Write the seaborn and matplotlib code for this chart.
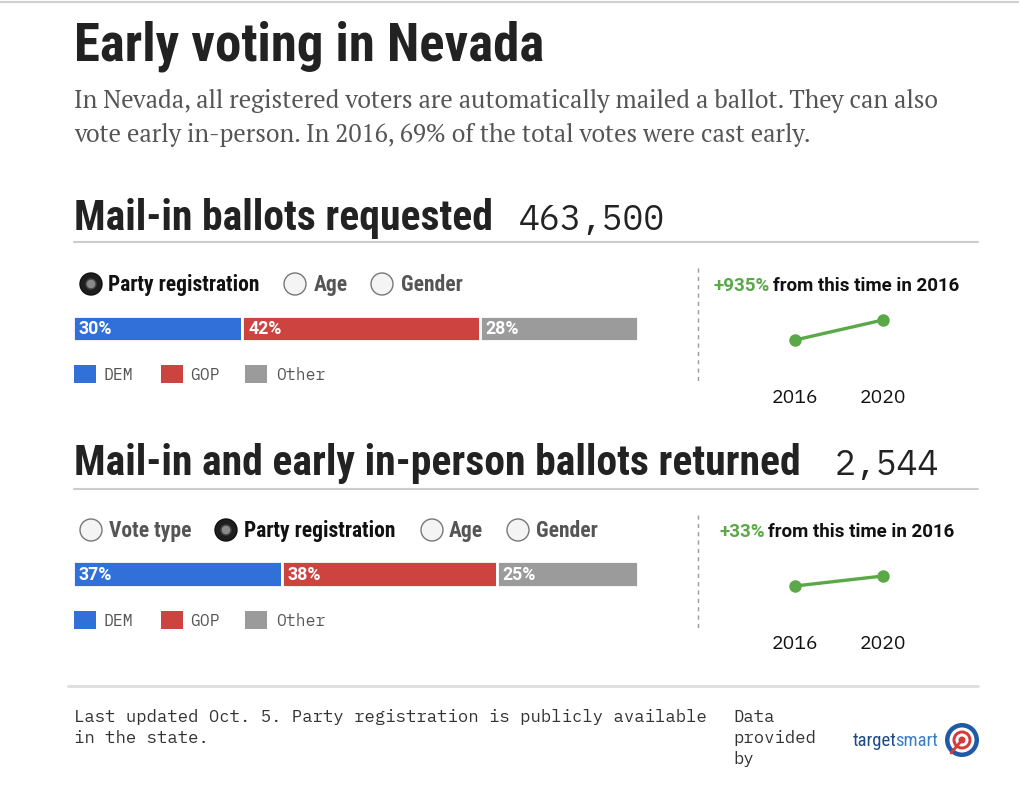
import matplotlib
matplotlib.use("Agg")
import matplotlib.pyplot as plt
from matplotlib.patches import Circle, Rectangle
import numpy as np
import pandas as pd
import seaborn as sns

# ---- data ----
parties = ["DEM", "GOP", "Other"]
party_colors = ["#3070d8", "#cc4340", "#9b9b9b"]

requested_total = "463,500"
requested_share = [30, 42, 28]
requested_change = "+935%"

returned_total = "2,544"
returned_share = [37, 38, 25]
returned_change = "+33%"

spark_years = [2016, 2020]
requested_counts = [44_783, 463_500]   # 2020 is +935% on 2016
returned_counts = [1_913, 2_544]       # 2020 is +33% on 2016

requested_tabs = ["Party registration", "Age", "Gender"]
returned_tabs = ["Vote type", "Party registration", "Age", "Gender"]

W, H = 1020, 800
GREEN = "#5aa848"
HEAD = ["Roboto Condensed", "DejaVu Sans"]
MONO = ["IBM Plex Mono", "DejaVu Sans Mono"]
SERIF = ["PT Serif", "DejaVu Serif"]
SANS = ["Roboto", "DejaVu Sans"]

sns.set_theme(style="white")
plt.rcParams["font.family"] = ["DejaVu Sans"]

fig = plt.figure(figsize=(W / 100, H / 100), dpi=100)
fig.patch.set_facecolor("white")

# background axes in pixel units (y grows downward)
bg = fig.add_axes([0, 0, 1, 1])
bg.set_xlim(0, W)
bg.set_ylim(H, 0)
bg.axis("off")


def px_axes(left, top, right, bottom):
    return fig.add_axes([left / W, 1 - bottom / H, (right - left) / W, (bottom - top) / H])


def radio(x, y, selected):
    if selected:
        bg.add_patch(Circle((x, y), 11, facecolor="#1e1e1e", edgecolor="#111", lw=1, zorder=3))
        bg.add_patch(Circle((x, y), 5, facecolor="#8a8a8a", edgecolor="#444", lw=1, zorder=4))
    else:
        bg.add_patch(Circle((x, y), 11, facecolor="#f4f4f4", edgecolor="#777", lw=1, zorder=3))


def stacked_bar(rect, shares):
    ax = px_axes(*rect)
    lefts = np.cumsum([0] + shares[:-1])
    df = pd.DataFrame({"party": parties, "share": shares, "left": lefts})
    ax.barh(0, df["share"], left=df["left"], height=1, color=party_colors,
            edgecolor="white", linewidth=2.0)
    for _, r in df.iterrows():
        ax.text(r["left"] + 1.0, -0.04, f"{r['share']}%", color="white", fontsize=12.8,
                fontweight="bold", family=SANS, va="center", ha="left")
    ax.set_xlim(0, 100)
    ax.set_ylim(-0.5, 0.5)
    ax.axis("off")


def legend(y, xs):
    for (sx, tx), name, c in zip(xs, parties, party_colors):
        bg.add_patch(Rectangle((sx, y - 9), 22, 18, facecolor=c, edgecolor="none"))
        bg.text(tx, y + 1, name, family=MONO, fontsize=11.8, color="#555", va="center")


def sparkline(rect, counts, below, above):
    ax = px_axes(*rect)
    df = pd.DataFrame({"year": spark_years, "count": counts})
    sns.lineplot(data=df, x="year", y="count", ax=ax, color=GREEN, linewidth=2.4,
                 marker="o", markersize=9, markeredgewidth=0, clip_on=False)
    span = counts[1] - counts[0]
    ax.set_xlim(spark_years[0], spark_years[1])
    ax.set_ylim(counts[0] - below * span, counts[1] + above * span)
    ax.set_xticks(spark_years)
    ax.set_xticklabels([str(y) for y in spark_years], family=["IBM Plex Sans", "DejaVu Sans"],
                       fontsize=14, color="#111")
    ax.tick_params(axis="x", length=0, pad=21)
    ax.set_yticks([])
    ax.set_xlabel("")
    ax.set_ylabel("")
    for s in ax.spines.values():
        s.set_visible(False)
    ax.patch.set_alpha(0)


def change_note(x, y, change):
    t = bg.text(x, y, change, family=SANS, fontsize=13.5, fontweight="bold", color=GREEN,
                va="baseline")
    bg.annotate("from this time in 2016", xy=(1, 0), xycoords=t, xytext=(2, 0),
                textcoords="offset points", family=SANS, fontsize=13.5,
                fontweight="bold", color="#111", va="bottom", ha="left")


# top border
bg.plot([0, W], [1.5, 1.5], color="#cfcfcf", lw=1.5)

# title and intro
bg.text(74, 60, "Early voting in Nevada", family=HEAD, fontsize=38, fontweight="bold",
        color="#222", va="baseline")
bg.text(74, 108, "In Nevada, all registered voters are automatically mailed a ballot. They can also",
        family=SERIF, fontsize=17.7, color="#555", va="baseline")
bg.text(74, 142, "vote early in-person. In 2016, 69% of the total votes were cast early.",
        family=SERIF, fontsize=17.7, color="#555", va="baseline")

# ---- section 1: mail-in ballots requested ----
bg.text(74, 230, "Mail-in ballots requested", family=HEAD, fontsize=30, fontweight="bold",
        color="#222", va="baseline")
bg.text(519, 230, requested_total, family=MONO, fontsize=25, color="#222", va="baseline")
bg.plot([74, 978], [242, 242], color="#cccccc", lw=1.5)

for (cx, lx), label in zip([(91, 108), (295, 314), (382, 401)], requested_tabs):
    sel = label == "Party registration"
    radio(cx, 284, sel)
    bg.text(lx, 285, label, family=HEAD, fontsize=15.5, fontweight="bold",
            color="#111" if sel else "#555", va="center")

stacked_bar((73, 316, 638, 341), requested_share)
legend(374, [(74, 104), (161, 190), (245, 276)])

bg.plot([698, 698], [268, 382], color="#999", lw=1, ls=(0, (3, 3)))
change_note(714, 291, requested_change)
sparkline((795, 300, 883, 360), requested_counts, 1, 1)

# ---- section 2: ballots returned ----
bg.text(74, 475, "Mail-in and early in-person ballots returned", family=HEAD, fontsize=30,
        fontweight="bold", color="#222", va="baseline")
bg.text(835, 475, returned_total, family=MONO, fontsize=25, color="#222", va="baseline")
bg.plot([74, 978], [489, 489], color="#cccccc", lw=1.5)

for (cx, lx), label in zip([(91, 109), (226, 244), (432, 449), (518, 536)], returned_tabs):
    sel = label == "Party registration"
    radio(cx, 530, sel)
    bg.text(lx, 531, label, family=HEAD, fontsize=15.5, fontweight="bold",
            color="#111" if sel else "#555", va="center")

stacked_bar((73, 561, 638, 587), returned_share)
legend(620, [(74, 104), (161, 190), (245, 276)])

bg.plot([698, 698], [515, 628], color="#999", lw=1, ls=(0, (3, 3)))
change_note(720, 537, returned_change)
sparkline((795, 546, 883, 606), returned_counts, 2, 3)

# ---- footer ----
bg.plot([68, 978], [686, 686], color="#dddddd", lw=2)
bg.text(74, 717, "Last updated Oct. 5. Party registration is publicly available",
        family=MONO, fontsize=12.4, color="#333", va="center")
bg.text(74, 738, "in the state.", family=MONO, fontsize=12.4, color="#333", va="center")
for yy, word in zip([717, 738, 759], ["Data", "provided", "by"]):
    bg.text(733, yy, word, family=MONO, fontsize=12.4, color="#333", va="center")

t = bg.text(853, 741, "target", family=HEAD, fontsize=13.5, color="#1d4a86", va="center")
bg.annotate("smart", xy=(1, 0.5), xycoords=t, xytext=(-1.5, 0), textcoords="offset points",
            family=HEAD, fontsize=13.5, color="#3d7fc4", va="center", ha="left")
for r, c in [(17, "#1f5aa6"), (12.5, "white"), (9.5, "#d63b3b"), (6.5, "white"), (3.5, "#d63b3b")]:
    bg.add_patch(Circle((962, 740), r, facecolor=c, edgecolor="none"))
bg.plot([962, 951], [740, 753], color="#d63b3b", lw=2)

fig.savefig("out.png", dpi=100, facecolor="white")
